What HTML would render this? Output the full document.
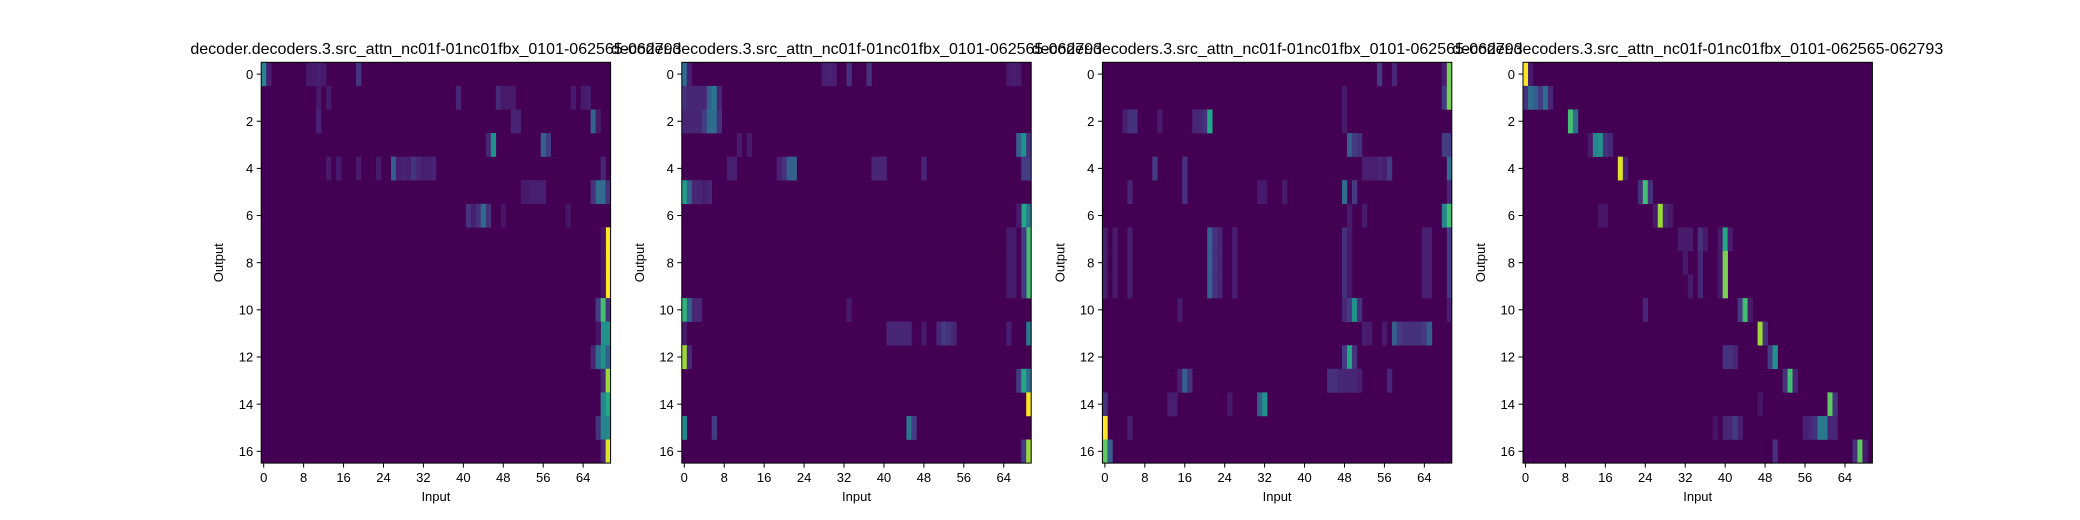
<!DOCTYPE html>
<html><head><meta charset="utf-8"><style>
html,body{margin:0;padding:0;background:#fff;width:2080px;height:520px;overflow:hidden}
svg{display:block;font-family:"Liberation Sans","DejaVu Sans",sans-serif}
</style></head><body>
<svg id="chart" width="2080" height="520"></svg>
<script>
// Data: sparse cells per panel [row, col, value 0..1]; everything else is 0
const panelTitles = ["decoder.decoders.3.src_attn_nc01f-01nc01fbx_0101-062565-062793","decoder.decoders.3.src_attn_nc01f-01nc01fbx_0101-062565-062793","decoder.decoders.3.src_attn_nc01f-01nc01fbx_0101-062565-062793","decoder.decoders.3.src_attn_nc01f-01nc01fbx_0101-062565-062793"];
const numRows = 17;
const numCols = 70;
const xTickLabels = [0,8,16,24,32,40,48,56,64];
const yTickLabels = [0,2,4,6,8,10,12,14,16];
const cells1 = [[0,0,0.45],[0,1,0.12],[0,9,0.1],[0,10,0.1],[0,11,0.12],[0,12,0.1],[0,19,0.22],[1,11,0.1],[1,13,0.1],[1,39,0.15],[1,47,0.17],[1,48,0.1],[1,49,0.1],[1,50,0.1],[1,62,0.1],[1,64,0.1],[1,65,0.12],[2,11,0.14],[2,50,0.14],[2,51,0.14],[2,66,0.32],[2,67,0.1],
[3,45,0.15],[3,46,0.5],[3,56,0.3],[3,57,0.25],[4,13,0.1],[4,15,0.1],[4,19,0.1],[4,23,0.1],[4,26,0.3],[4,27,0.12],[4,28,0.14],[4,29,0.12],[4,30,0.22],[4,31,0.15],[4,32,0.12],[4,33,0.12],[4,34,0.14],[4,68,0.15],
[5,52,0.1],[5,53,0.1],[5,54,0.12],[5,55,0.12],[5,56,0.12],[5,66,0.2],[5,67,0.35],[5,68,0.35],[5,69,0.2],[6,41,0.2],[6,42,0.12],[6,43,0.2],[6,44,0.35],[6,45,0.2],[6,48,0.08],[6,61,0.08],
[7,69,1.0],[8,69,1.0],[9,69,1.0],[7,68,0.08],[8,68,0.08],[9,68,0.08],[10,67,0.25],[10,68,0.7],[10,69,0.2],[11,68,0.5],[11,69,0.5],[11,67,0.08],[12,66,0.15],[12,67,0.35],[12,68,0.5],[12,69,0.3],[13,68,0.15],[13,69,0.85],[14,68,0.45],[14,69,0.6],[15,67,0.2],[15,68,0.45],[15,69,0.45],[16,68,0.15],[16,69,0.95]];
const cells2 = [[0,0,0.35],[0,1,0.12],[0,28,0.12],[0,29,0.14],[0,30,0.12],[0,33,0.2],[0,37,0.2],[0,65,0.1],[0,66,0.12],[0,67,0.1],[1,0,0.2],[1,1,0.15],[1,2,0.15],[1,3,0.15],[1,4,0.15],[1,5,0.3],[1,6,0.4],[1,7,0.15],[2,0,0.15],[2,1,0.15],[2,2,0.15],[2,3,0.15],[2,4,0.25],[2,5,0.35],[2,6,0.35],[2,7,0.2],
[3,11,0.1],[3,13,0.1],[3,67,0.3],[3,68,0.5],[3,69,0.2],[4,9,0.12],[4,10,0.12],[4,19,0.12],[4,20,0.2],[4,21,0.3],[4,22,0.3],[4,38,0.15],[4,39,0.15],[4,40,0.15],[4,48,0.15],[4,68,0.25],[4,69,0.25],
[5,0,0.55],[5,1,0.3],[5,2,0.15],[5,3,0.15],[5,4,0.12],[5,5,0.15],[6,68,0.6],[6,69,0.4],[6,67,0.1],
[7,69,0.7],[8,69,0.7],[9,69,0.7],[7,68,0.25],[8,68,0.25],[9,68,0.25],[7,65,0.1],[8,65,0.1],[9,65,0.1],[7,66,0.1],[8,66,0.1],[9,66,0.1],
[10,0,0.65],[10,1,0.3],[10,2,0.15],[10,3,0.15],[10,33,0.1],[11,0,0.1],[11,41,0.15],[11,42,0.15],[11,43,0.15],[11,44,0.15],[11,45,0.15],[11,48,0.1],[11,51,0.15],[11,52,0.25],[11,53,0.2],[11,54,0.15],[11,65,0.12],[11,69,0.4],
[12,0,0.85],[12,1,0.15],[13,67,0.25],[13,68,0.6],[13,69,0.35],[14,69,1.0],[15,0,0.45],[15,6,0.25],[15,45,0.4],[15,46,0.25],[16,68,0.25],[16,69,0.85]];
const cells3 = [[0,55,0.25],[0,58,0.15],[0,68,0.12],[0,69,0.8],[1,68,0.25],[1,69,0.8],[1,48,0.1],[2,4,0.12],[2,5,0.2],[2,6,0.2],[2,11,0.1],[2,18,0.15],[2,19,0.15],[2,20,0.2],[2,21,0.6],[2,48,0.1],
[3,49,0.3],[3,50,0.25],[3,51,0.2],[3,68,0.25],[3,69,0.25],[4,10,0.25],[4,16,0.2],[4,52,0.12],[4,53,0.12],[4,54,0.12],[4,55,0.15],[4,56,0.12],[4,57,0.25],[4,69,0.35],
[5,5,0.15],[5,16,0.2],[5,31,0.1],[5,32,0.1],[5,36,0.1],[5,48,0.35],[5,50,0.25],[5,69,0.15],[6,68,0.45],[6,69,0.7],[6,49,0.1],[6,52,0.1]];
// rows 7-9 pattern
[7,8,9].forEach(r=>{cells3.push([r,0,0.12],[r,2,0.1],[r,5,0.12],[r,21,0.3],[r,22,0.2],[r,23,0.15],[r,26,0.12],[r,48,0.2],[r,49,0.1],[r,64,0.12],[r,65,0.12],[r,69,0.25]);});
cells3.push([10,15,0.1],[10,48,0.15],[10,49,0.25],[10,50,0.5],[10,51,0.2],[10,69,0.12],[11,52,0.12],[11,53,0.1],[11,56,0.1],[11,58,0.3],[11,59,0.25],[11,60,0.2],[11,61,0.2],[11,62,0.2],[11,63,0.2],[11,64,0.25],[11,65,0.3],
[12,48,0.25],[12,49,0.6],[12,50,0.2],[13,15,0.12],[13,16,0.3],[13,17,0.2],[13,45,0.2],[13,46,0.2],[13,47,0.15],[13,48,0.15],[13,49,0.15],[13,50,0.15],[13,51,0.12],[13,57,0.15],
[14,0,0.2],[14,13,0.12],[14,14,0.12],[14,31,0.3],[14,32,0.5],[14,25,0.1],[15,0,1.0],[15,5,0.12],[16,0,0.75],[16,1,0.3]);
const cells4 = [[0,0,1.0],[0,1,0.1],[1,0,0.2],[1,1,0.35],[1,2,0.3],[1,3,0.25],[1,4,0.35],[1,5,0.15],[2,9,0.7],[2,10,0.35],[3,13,0.1],[3,14,0.45],[3,15,0.5],[3,16,0.2],[3,17,0.15],[4,19,0.95],[4,20,0.12],
[5,23,0.2],[5,24,0.7],[5,25,0.2],[6,15,0.08],[6,16,0.08],[6,26,0.1],[6,27,0.85],[6,28,0.15],[6,29,0.1],
[7,31,0.1],[7,32,0.1],[7,33,0.1],[7,35,0.2],[7,36,0.1],[7,39,0.1],[7,40,0.6],[7,41,0.1],[8,32,0.1],[8,35,0.15],[8,39,0.1],[8,40,0.8],[9,33,0.1],[9,35,0.15],[9,39,0.1],[9,40,0.8],
[10,24,0.15],[10,43,0.25],[10,44,0.7],[10,45,0.1],[11,47,0.85],[11,48,0.2],[12,40,0.2],[12,41,0.2],[12,42,0.15],[12,49,0.25],[12,50,0.5],[13,52,0.2],[13,53,0.7],[13,54,0.15],
[14,47,0.08],[14,61,0.75],[14,62,0.2],[15,38,0.08],[15,40,0.15],[15,41,0.15],[15,42,0.25],[15,43,0.12],[15,56,0.12],[15,57,0.15],[15,58,0.2],[15,59,0.4],[15,60,0.4],[15,61,0.15],[15,62,0.15],
[16,50,0.2],[16,66,0.2],[16,67,0.75],[16,68,0.1]];
const panelCells = [cells1,cells2,cells3,cells4];

const NS="http://www.w3.org/2000/svg";
const svg=document.getElementById('chart');
const panelLefts=[261.2,681.8,1102.4,1523];
const panelTop=62.3, panelW=349.4, panelH=400.8;
const colW=panelW/numCols, rowH=panelH/numRows;
function xScale(p,c){return panelLefts[p]+c*colW;}
function yScale(r){return panelTop+r*rowH;}
const vir=[[68,1,84],[72,36,117],[65,68,135],[53,95,141],[42,120,142],[33,145,140],[34,168,132],[68,190,112],[122,209,81],[189,223,38],[253,231,37]];
function viridis(v){v=Math.max(0,Math.min(1,v));if(v<0.3)v=v*0.7;const t=v*10,i=Math.min(9,Math.floor(t)),f=t-i;const a=vir[i],b=vir[i+1];return 'rgb('+a.map((x,k)=>Math.round(x+(b[k]-x)*f)).join(',')+')';}
function mk(tag,attrs,parent){const e=document.createElementNS(NS,tag);for(const k in attrs)e.setAttribute(k,attrs[k]);(parent||svg).appendChild(e);return e;}

panelCells.forEach((cells,p)=>{
  const g=mk('g',{});
  
  
  const bg=mk('rect',{x:xScale(p,0),y:yScale(0),width:panelW,height:panelH,fill:viridis(0)},g);
  
  
  cells.forEach(([r,c,v])=>{
    const cell=mk('rect',{x:xScale(p,c),y:yScale(r),width:colW+0.3,height:rowH+0.3,fill:viridis(v)},g);
    
    
  });
  const fr=mk('rect',{x:xScale(p,0),y:yScale(0),width:panelW,height:panelH,fill:'none',stroke:'#000','stroke-width':1},g);
  
  
  xTickLabels.forEach(t=>{
    const x=xScale(p,t+0.5);
    mk('line',{x1:x,x2:x,y1:yScale(numRows),y2:yScale(numRows)+4.5,stroke:'#000','stroke-width':1},g);
    const tl=mk('text',{x:x,y:yScale(numRows)+19,'text-anchor':'middle','font-size':13,fill:'#000'},g);
    tl.textContent=t;
    
    
  });
  yTickLabels.forEach(t=>{
    const y=yScale(t+0.5);
    mk('line',{x1:xScale(p,0),x2:xScale(p,0)-4.5,y1:y,y2:y,stroke:'#000','stroke-width':1},g);
    const tl=mk('text',{x:xScale(p,0)-8,y:y+4.7,'text-anchor':'end','font-size':13,fill:'#000'},g);
    tl.textContent=t;
    
    
  });
  const cx=xScale(p,0)+panelW/2;
  const xl=mk('text',{x:cx,y:501,'text-anchor':'middle','font-size':13,fill:'#000'},g);
  xl.textContent='Input';
  
  
  const ly=yScale(0)+panelH/2, lx=xScale(p,0)-38;
  const yl=mk('text',{x:lx,y:ly,'text-anchor':'middle','font-size':13,fill:'#000',transform:'rotate(-90 '+lx+' '+ly+')'},g);
  yl.textContent='Output';
  
  
  const ti=mk('text',{x:cx,y:54,'text-anchor':'middle','font-size':16,fill:'#000'},g);
  ti.textContent=panelTitles[p];
  
  
});
</script>
</body></html>
